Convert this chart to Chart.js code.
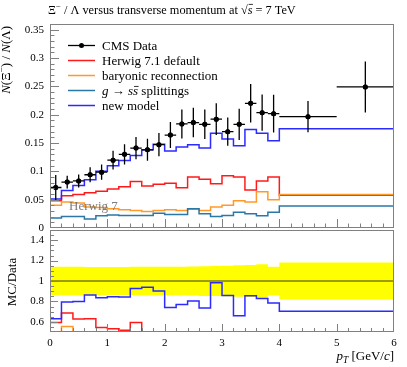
<!DOCTYPE html>
<html>
<head>
<meta charset="utf-8">
<script src="https://cdn.jsdelivr.net/npm/chart.js@4.4.0/dist/chart.umd.min.js"></script>
<style>
    body { margin: 0; background: #fff; width: 407px; height: 367px; overflow: hidden; position: relative; }
    #mainChart { position: absolute; left: 0; top: 0; }
    #ratioChart { position: absolute; left: 0; top: 229px; }
</style>
</head>
<body>
<canvas id="mainChart" width="407" height="231"></canvas>
<canvas id="ratioChart" width="407" height="138"></canvas>
<script>
// bin edges in pT (GeV/c)
const binEdges = [0, 0.2, 0.4, 0.6, 0.8, 1.0, 1.2, 1.4, 1.6, 1.8, 2.0, 2.2, 2.4, 2.6, 2.8, 3.0, 3.2, 3.4, 3.6, 3.8, 4.0, 5.0, 6.0];

// CMS data and errors
const cmsData = [0.0715, 0.081, 0.083, 0.094, 0.0986, 0.1197, 0.130, 0.141, 0.138, 0.147, 0.164, 0.1836, 0.186, 0.183, 0.192, 0.170, 0.183, 0.220, 0.2035, 0.2018, 0.1965, 0.249];
const cmsErr = [0.022, 0.0113, 0.0116, 0.0132, 0.0136, 0.0165, 0.018, 0.0195, 0.0193, 0.0206, 0.023, 0.0257, 0.026, 0.026, 0.028, 0.025, 0.0275, 0.034, 0.032, 0.0333, 0.0275, 0.045];

// MC predictions
const herwigDefault = [0.043, 0.048, 0.057, 0.059, 0.062, 0.065, 0.069, 0.073, 0.082, 0.074, 0.077, 0.079, 0.071, 0.090, 0.086, 0.078, 0.092, 0.090, 0.067, 0.083, 0.090, 0.058];
const baryonicReco = [0.031, 0.040, 0.046, 0.044, 0.037, 0.036, 0.034, 0.032, 0.031, 0.029, 0.031, 0.032, 0.031, 0.033, 0.031, 0.037, 0.040, 0.048, 0.046, 0.064, 0.050, 0.059];
const gssSplit = [0.015, 0.0176, 0.0205, 0.0205, 0.016, 0.0217, 0.023, 0.022, 0.022, 0.022, 0.026, 0.024, 0.024, 0.034, 0.025, 0.0205, 0.022, 0.028, 0.025, 0.0217, 0.028, 0.039];
const newModel = [0.044, 0.051, 0.066, 0.075, 0.085, 0.100, 0.110, 0.119, 0.128, 0.138, 0.148, 0.136, 0.143, 0.147, 0.141, 0.167, 0.157, 0.145, 0.174, 0.167, 0.154, 0.175];

// tick labels
const xTicks = [0, 1, 2, 3, 4, 5, 6];
const mainYTicks = [0, 0.05, 0.1, 0.15, 0.2, 0.25, 0.3, 0.35];
const ratioYTicks = [0.6, 0.8, 1, 1.2, 1.4];

const FONT = '"Liberation Serif", "Times New Roman", serif';
const RED = '#ff1a1a', ORANGE = '#ff9a2a', TEAL = '#2a78a8', BLUE = '#2b2bff';

function histPoints(vals) {
    return binEdges.map((e, i) => ({ x: e, y: vals[Math.min(i, vals.length - 1)] }));
}
function ratioOf(vals) {
    return vals.map((v, i) => v / cmsData[i]);
}
const binCentres = cmsData.map((v, i) => (binEdges[i] + binEdges[i + 1]) / 2);

// draws a line of text built from pieces (italic, superscript, overline)
function drawRich(ctx, segs, x, y, size, align) {
    const fontFor = s => (s.it ? 'italic ' : '') + (s.sup || s.sub ? size * 0.72 : size) + 'px ' + FONT;
    let w = 0;
    segs.forEach(s => { ctx.font = fontFor(s); s.w = ctx.measureText(s.t).width; w += s.w; });
    let cx = align === 'right' ? x - w : align === 'center' ? x - w / 2 : x;
    ctx.textAlign = 'left';
    ctx.textBaseline = 'alphabetic';
    segs.forEach(s => {
        ctx.font = fontFor(s);
        const dy = s.sup ? -size * 0.42 : s.sub ? size * 0.22 : 0;
        ctx.fillText(s.t, cx, y + dy);
        if (s.over) {
            ctx.save();
            ctx.lineWidth = 0.8;
            ctx.strokeStyle = ctx.fillStyle;
            ctx.beginPath();
            ctx.moveTo(cx + 1, y - size * s.over);
            ctx.lineTo(cx + s.w + 0.5, y - size * s.over);
            ctx.stroke();
            ctx.restore();
        }
        cx += s.w;
    });
}

// frame, inward ticks and tick labels
const frameTicks = {
    id: 'frameTicks',
    afterDraw(chart, args, opts) {
        const { ctx, chartArea: a, scales: { x, y } } = chart;
        ctx.save();
        ctx.strokeStyle = '#808080';
        ctx.lineWidth = 1;
        ctx.strokeRect(a.left + 0.5, a.top + 0.5, a.right - a.left - 1, a.bottom - a.top - 1);
        ctx.beginPath();
        for (let k = 1; k < 30; k++) {
            const px = Math.round(x.getPixelForValue(k * 0.2)) + 0.5;
            const len = k % 5 === 0 ? opts.major : opts.minor;
            ctx.moveTo(px, a.bottom);
            ctx.lineTo(px, a.bottom - len);
        }
        for (let k = 1; k < opts.yCount; k++) {
            const v = opts.yStart + k * opts.yStep;
            const py = Math.round(y.getPixelForValue(v)) + 0.5;
            const len = (k - opts.yMajorOffset) % opts.yMajorEvery === 0 ? opts.major : opts.minor;
            ctx.moveTo(a.left, py);
            ctx.lineTo(a.left + len, py);
        }
        ctx.stroke();

        ctx.fillStyle = '#000';
        ctx.font = '11px ' + FONT;
        ctx.textBaseline = 'middle';
        ctx.textAlign = 'right';
        opts.yLabels.forEach(v => {
            ctx.fillText(String(v), a.left - 6, y.getPixelForValue(v));
        });
        if (opts.xLabels) {
            ctx.textAlign = 'center';
            opts.xLabels.forEach(v => {
                ctx.fillText(String(v), x.getPixelForValue(v), a.bottom + 11);
            });
        }
        ctx.restore();
    }
};

// horizontal and vertical error bars for the data
const errorBars = {
    id: 'errorBars',
    afterDatasetsDraw(chart) {
        const idx = chart.data.datasets.findIndex(d => d.isData);
        if (idx < 0) return;
        const { ctx, scales: { x, y } } = chart;
        const meta = chart.getDatasetMeta(idx);
        ctx.save();
        ctx.strokeStyle = '#000';
        ctx.lineWidth = 1.3;
        ctx.beginPath();
        meta.data.forEach((pt, i) => {
            const xl = x.getPixelForValue(binEdges[i]);
            const xr = x.getPixelForValue(binEdges[i + 1]);
            const yt = y.getPixelForValue(cmsData[i] + cmsErr[i]);
            const yb = y.getPixelForValue(cmsData[i] - cmsErr[i]);
            ctx.moveTo(xl, pt.y); ctx.lineTo(xr, pt.y);
            ctx.moveTo(pt.x, yt); ctx.lineTo(pt.x, yb);
        });
        ctx.stroke();
        meta.data.forEach(pt => pt.draw(ctx, chart.chartArea));
        ctx.restore();
    }
};

// title, legend, labels for the upper panel
const mainDecor = {
    id: 'mainDecor',
    afterDraw(chart) {
        const { ctx } = chart;
        ctx.save();
        ctx.fillStyle = '#000';
        drawRich(ctx, [
            { t: 'Ξ' }, { t: '−', sup: true }, { t: ' / Λ versus transverse momentum at ' },
            { t: '√' }, { t: 's', it: true, over: 0.78 }, { t: ' = 7 TeV' }
        ], 48, 14, 12.3, 'left');

        // y label
        ctx.save();
        ctx.translate(10, 26);
        ctx.rotate(-Math.PI / 2);
        drawRich(ctx, [
            { t: 'N', it: true }, { t: '(Ξ' }, { t: '−', sup: true }, { t: ') / ' },
            { t: 'N', it: true }, { t: '(Λ)' }
        ], 0, 0, 13, 'right');
        ctx.restore();

        // watermark
        ctx.fillStyle = 'rgba(100,100,100,0.85)';
        drawRich(ctx, [{ t: 'Herwig 7' }], 69, 210, 13, 'left');

        // legend
        const rows = [
            { segs: [{ t: 'CMS Data' }], color: '#000', marker: true },
            { segs: [{ t: 'Herwig 7.1 default' }], color: RED },
            { segs: [{ t: 'baryonic reconnection' }], color: ORANGE },
            { segs: [{ t: 'g', it: true }, { t: ' → ' }, { t: 's', it: true }, { t: 's', it: true, over: 0.62 }, { t: ' splittings' }], color: TEAL },
            { segs: [{ t: 'new model' }], color: BLUE }
        ];
        rows.forEach((r, i) => {
            const yc = 45 + i * 15;
            ctx.strokeStyle = r.color;
            ctx.lineWidth = r.marker ? 1.3 : 1.5;
            ctx.beginPath();
            ctx.moveTo(68, yc + 0.5);
            ctx.lineTo(95, yc + 0.5);
            ctx.stroke();
            if (r.marker) {
                ctx.fillStyle = '#000';
                ctx.beginPath();
                ctx.arc(81.5, yc + 0.5, 2.5, 0, Math.PI * 2);
                ctx.fill();
            }
            ctx.fillStyle = '#000';
            drawRich(ctx, r.segs, 102, yc + 4.5, 13, 'left');
        });
        ctx.restore();
    }
};

// labels for the ratio panel
const ratioDecor = {
    id: 'ratioDecor',
    afterDraw(chart) {
        const { ctx } = chart;
        ctx.save();
        ctx.fillStyle = '#000';
        ctx.translate(16, 53);
        ctx.rotate(-Math.PI / 2);
        drawRich(ctx, [{ t: 'MC/Data' }], 0, 0, 13, 'center');
        ctx.restore();
        ctx.save();
        ctx.fillStyle = '#000';
        drawRich(ctx, [
            { t: 'p', it: true }, { t: 'T', it: true, sub: true }, { t: ' [GeV/' }, { t: 'c', it: true }, { t: ']' }
        ], 394, 131, 13, 'right');
        ctx.restore();
    }
};

function histDataset(label, vals, color) {
    return {
        label: label,
        data: histPoints(vals),
        stepped: 'after',
        borderColor: color,
        borderWidth: 1.5,
        pointRadius: 0,
        fill: false
    };
}

const xScale = height => ({
    type: 'linear',
    min: 0,
    max: 6,
    afterBuildTicks: s => { s.ticks = xTicks.map(v => ({ value: v })); },
    afterFit: s => { s.height = height; },
    grid: { display: false, drawTicks: false },
    border: { display: false },
    ticks: { display: false }
});

const yScale = (min, max, ticks) => ({
    type: 'linear',
    min: min,
    max: max,
    afterBuildTicks: s => { s.ticks = ticks.map(v => ({ value: v })); },
    afterFit: s => { s.width = 50; },
    grid: { display: false, drawTicks: false },
    border: { display: false },
    ticks: { display: false }
});

new Chart(document.getElementById('mainChart').getContext('2d'), {
    type: 'line',
    data: {
        datasets: [
            {
                label: 'CMS Data',
                isData: true,
                data: binCentres.map((c, i) => ({ x: c, y: cmsData[i] })),
                showLine: false,
                pointRadius: 2.5,
                pointBackgroundColor: '#000',
                pointBorderColor: '#000',
                pointBorderWidth: 0
            },
            histDataset('new model', newModel, BLUE),
            histDataset('g → ss̄ splittings', gssSplit, TEAL),
            histDataset('baryonic reconnection', baryonicReco, ORANGE),
            histDataset('Herwig 7.1 default', herwigDefault, RED)
        ]
    },
    options: {
        responsive: false,
        animation: false,
        layout: { autoPadding: false, padding: { left: 0, right: 13, top: 24, bottom: 0 } },
        plugins: {
            legend: { display: false },
            tooltip: { enabled: false },
            frameTicks: { major: 9, minor: 4.5, yStart: 0, yStep: 0.01, yCount: 36, yMajorEvery: 5, yMajorOffset: 0, yLabels: mainYTicks }
        },
        scales: {
            x: xScale(3),
            y: yScale(0, 0.36, mainYTicks)
        }
    },
    plugins: [frameTicks, errorBars, mainDecor]
});

new Chart(document.getElementById('ratioChart').getContext('2d'), {
    type: 'line',
    data: {
        datasets: [
            histDataset('new model', ratioOf(newModel), BLUE),
            histDataset('g → ss̄ splittings', ratioOf(gssSplit), TEAL),
            histDataset('baryonic reconnection', ratioOf(baryonicReco), ORANGE),
            histDataset('Herwig 7.1 default', ratioOf(herwigDefault), RED),
            {
                label: 'unity',
                data: [{ x: 0, y: 1 }, { x: 6, y: 1 }],
                borderColor: '#3a3a00',
                borderWidth: 1,
                pointRadius: 0
            },
            {
                label: 'band up',
                data: histPoints(cmsErr.map((e, i) => 1 + e / cmsData[i])),
                stepped: 'after',
                borderWidth: 0,
                pointRadius: 0,
                backgroundColor: '#ffff00',
                fill: '+1'
            },
            {
                label: 'band down',
                data: histPoints(cmsErr.map((e, i) => 1 - e / cmsData[i])),
                stepped: 'after',
                borderWidth: 0,
                pointRadius: 0,
                fill: false
            }
        ]
    },
    options: {
        responsive: false,
        animation: false,
        layout: { autoPadding: false, padding: { left: 0, right: 13, top: 1, bottom: 0 } },
        plugins: {
            legend: { display: false },
            tooltip: { enabled: false },
            frameTicks: { major: 8, minor: 4, yStart: 0.5, yStep: 0.05, yCount: 20, yMajorEvery: 4, yMajorOffset: 2, yLabels: ratioYTicks, xLabels: xTicks }
        },
        scales: {
            x: xScale(35),
            y: yScale(0.5, 1.5, ratioYTicks)
        }
    },
    plugins: [frameTicks, ratioDecor]
});
</script>
</body>
</html>
